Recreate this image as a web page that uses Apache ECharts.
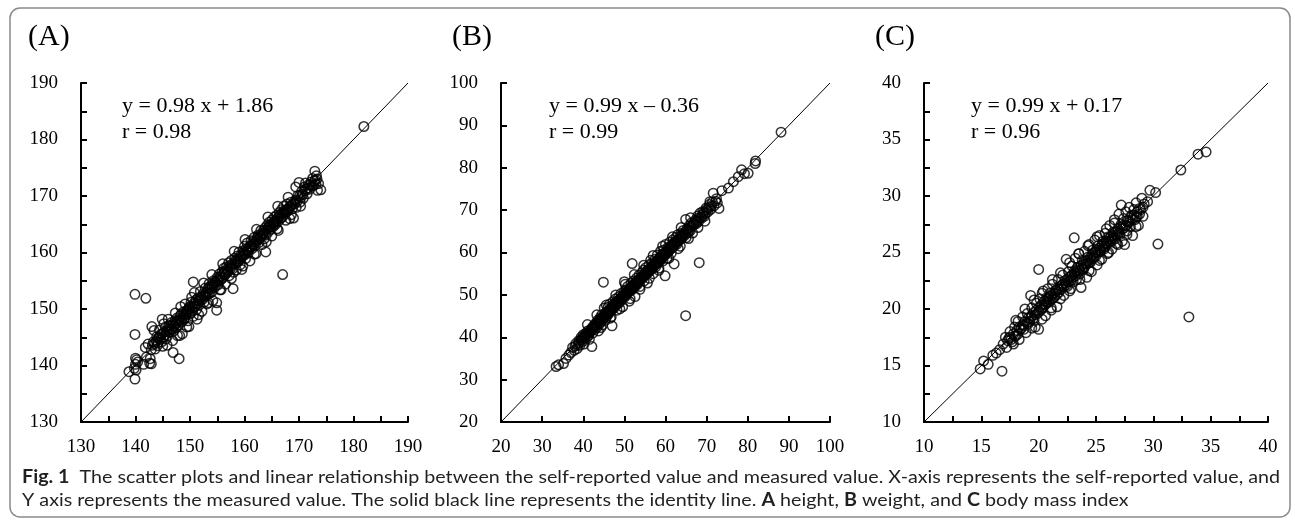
<!DOCTYPE html>
<html>
<head>
<meta charset="utf-8">
<script src="https://cdn.jsdelivr.net/npm/echarts@6.0.0/dist/echarts.min.js"></script>
<style>
  html, body { margin: 0; padding: 0; background: #fff; }
  #wrap { position: relative; width: 1295px; height: 521px; }
  #frame, #fig { position: absolute; left: 0; top: 0; width: 1295px; height: 521px; }
  #err { position: absolute; left: 600px; top: 10px; color: red; font: 12px sans-serif; }
</style>
</head>
<body>
<div id="wrap">
  <div id="frame"></div>
  <div id="fig"></div>
  <div id="err"></div>
</div>
<script>
// (A) height: [self-reported, measured]
const heightPoints = [
  [138.8,138.9],[139.9,137.6],[139.8,139.5],[140.0,140.2],[140.2,141.0],[140.1,139.2],[140.4,140.6],[140.0,141.3],
  [139.9,145.5],[139.9,152.6],[141.9,151.9],[141.5,140.2],[142.0,141.5],[141.8,143.2],[142.3,143.8],[142.6,140.4],
  [142.9,140.3],[142.7,141.2],[143.0,146.9],[143.4,146.2],[142.9,142.8],[143.1,143.6],[143.3,144.2],[143.6,142.9],
  [143.9,145.1],[144.0,143.5],[144.2,144.8],[144.6,145.5],[144.9,148.2],[144.4,146.3],[144.8,144.2],[145.0,143.4],
  [145.3,145.9],[145.6,144.7],[145.5,146.8],[145.9,145.3],[146.1,147.0],[146.2,145.9],[146.5,146.5],[146.9,142.3],
  [146.6,147.6],[146.8,144.4],[147.0,146.1],[147.2,147.9],[147.4,146.6],[147.6,148.4],[147.9,147.2],[148.0,141.2],
  [148.1,145.3],[148.2,148.8],[148.5,147.7],[148.6,145.6],[148.8,149.5],[148.9,148.1],[149.1,150.9],[149.2,148.9],
  [149.5,149.8],[149.6,147.9],[149.8,146.9],[149.9,150.4],[150.1,149.2],[150.2,151.2],[150.5,150.3],[150.6,154.8],
  [150.6,148.7],[150.8,152.9],[151.0,151.0],[151.2,149.9],[151.3,148.2],[151.5,152.0],[151.7,150.7],[151.9,153.1],
  [152.0,151.6],[152.2,149.6],[152.4,152.4],[152.6,151.2],[152.8,153.7],[153.0,152.3],[153.1,150.9],[153.3,153.6],
  [153.5,154.5],[153.7,152.8],[153.9,154.2],[154.0,153.0],[154.2,151.5],[154.3,155.0],[154.5,153.8],[154.7,154.7],
  [154.9,149.8],[154.9,151.1],[155.0,155.6],[155.2,154.3],[155.4,156.2],[155.6,155.1],[155.7,153.4],[155.9,156.6],
  [156.0,155.5],[156.2,157.2],[156.4,156.0],[156.5,154.4],[156.7,157.5],[156.9,156.7],[157.1,158.2],[157.2,155.9],
  [157.4,157.4],[157.6,158.6],[157.8,157.1],[157.9,153.6],[158.0,156.5],[158.2,159.0],[158.4,158.0],[158.5,156.9],
  [158.7,159.4],[158.9,158.4],[159.0,160.1],[159.2,157.8],[159.4,159.1],[159.5,157.0],[159.7,160.3],[159.9,159.5],
  [160.0,161.1],[160.2,158.9],[160.4,160.2],[160.5,161.7],[160.7,159.9],[160.9,160.9],[161.0,158.5],[161.2,162.1],
  [161.4,160.7],[161.6,161.5],[161.8,162.7],[162.0,161.2],[162.1,159.8],[162.3,162.3],[162.5,163.1],[162.7,161.8],
  [162.9,162.6],[163.0,163.9],[163.2,161.4],[163.4,163.5],[163.6,162.4],[163.9,160.1],[163.8,164.4],[164.0,163.1],
  [164.2,164.9],[164.4,163.7],[164.6,165.4],[164.8,164.1],[165.0,162.9],[165.1,165.8],[165.3,164.6],[165.5,166.3],
  [165.7,165.0],[165.9,166.6],[166.0,164.2],[166.2,165.5],[166.4,167.1],[166.6,166.0],[166.8,167.6],[167.0,156.1],
  [167.0,166.3],[167.2,168.2],[167.4,167.0],[167.6,165.7],[167.8,168.6],[168.0,167.4],[168.3,166.0],[168.5,168.9],
  [168.8,167.8],[169.0,166.1],[169.3,169.0],[169.5,168.0],[169.8,170.1],[170.0,172.4],[170.2,168.9],[170.5,170.8],
  [170.8,169.6],[171.0,171.6],[171.2,172.3],[171.5,170.4],[171.8,172.0],[172.0,171.2],[172.2,172.5],[172.5,173.1],
  [172.7,171.9],[172.9,174.4],[173.0,172.8],[173.2,173.6],[173.4,171.0],[173.6,172.2],[174.0,171.1],[181.9,182.3],
  [143.5,143.9],[143.8,144.3],[144.1,144.0],[144.3,145.0],[144.6,144.6],[144.9,145.6],[145.1,145.0],[145.4,145.4],
  [145.7,146.0],[145.9,146.4],[146.2,146.3],[146.4,147.1],[146.7,146.4],[146.9,147.3],[147.1,147.0],[147.3,147.5],
  [147.5,147.4],[147.7,147.9],[147.9,148.0],[148.1,148.2],[148.3,148.0],[148.4,149.1],[148.7,148.6],[148.9,149.0],
  [149.0,148.4],[149.3,149.6],[149.4,149.2],[149.7,149.3],[149.8,150.1],[150.0,150.0],[150.3,150.5],[150.4,149.7],
  [150.7,151.0],[150.9,150.4],[151.1,151.6],[151.4,150.9],[151.6,151.5],[151.8,151.9],[152.1,152.1],[152.3,151.7],
  [152.5,152.8],[152.7,152.3],[152.9,152.8],[153.2,153.1],[153.4,152.7],[153.6,153.9],[153.8,153.5],[154.1,154.0],
  [154.4,154.3],[154.6,154.9],[154.8,154.2],[155.1,155.2],[155.3,155.0],[155.5,155.7],[155.8,155.4],[156.1,156.2],
  [156.3,156.6],[156.6,156.2],[156.8,157.0],[157.0,156.6],[157.3,157.7],[157.5,157.2],[157.7,157.9],[158.1,158.0],
  [158.3,158.5],[158.6,158.3],[158.8,158.9],[159.1,158.8],[159.3,159.5],[159.6,159.4],[159.8,160.0],[160.1,159.7],
  [160.3,160.6],[160.6,160.3],[160.8,160.5],[161.1,161.2],[161.3,161.0],[161.5,161.9],[161.7,161.4],[161.9,161.8],
  [162.2,162.0],[162.4,162.7],[162.6,162.3],[162.8,163.0],[163.1,162.9],[163.3,163.2],[163.5,163.9],[163.7,163.3],
  [164.1,164.0],[164.3,164.3],[164.5,164.6],[164.7,164.9],[164.9,164.5],[165.2,165.2],[165.4,165.0],[165.6,165.6],
  [165.8,165.4],[166.1,166.0],[166.3,166.3],[166.5,166.6],[166.7,166.2],[166.9,166.9],[167.1,167.3],[167.3,166.8],
  [167.5,167.5],[167.7,167.2],[167.9,167.7],[168.2,167.9],[168.4,168.2],[168.7,168.4],[168.9,168.7],[169.2,168.6],
  [169.4,169.3],[169.7,169.1],[170.1,170.0],[170.4,169.8],[170.7,170.3],[171.1,170.9],[171.4,171.3],[171.7,171.4],
  [172.1,172.0],[172.4,171.8],[172.8,172.6],[173.1,172.1],[173.3,173.0],
  [145.2,147.4],[146.0,148.2],[147.3,149.3],[148.3,150.4],[150.3,152.1],[152.5,154.6],[154.0,156.1],[156.0,158.0],
  [158.1,160.2],[160.1,162.3],[162.2,164.1],[164.3,166.3],[145.8,143.6],[147.7,145.3],[149.4,146.8],[151.6,149.0],
  [153.4,151.1],[155.5,153.4],[157.6,155.4],[159.7,157.6],[161.8,159.7],[164.0,161.9],[166.2,163.9],[168.6,166.7],
  [170.3,168.2],[168.0,169.8],[169.4,171.6],[166.1,168.2]
];

// (B) weight
const weightPoints = [
  [33.4,33.1],[34.0,33.5],[35.2,33.8],[35.8,35.0],[36.5,35.8],[37.0,36.4],[37.4,37.6],[37.8,36.9],[38.2,38.5],
  [38.5,37.3],[38.9,39.2],[39.2,38.1],[39.5,40.0],[39.8,39.0],[40.0,40.6],[40.2,38.4],[40.4,39.7],[40.6,40.9],
  [40.9,40.0],[41.1,41.5],[41.3,40.4],[41.5,39.5],[41.7,41.2],[42.0,42.1],[42.1,37.8],[42.3,41.0],[42.5,42.7],
  [42.8,41.8],[43.0,43.3],[43.2,42.2],[43.5,44.0],[43.7,41.5],[43.9,43.1],[44.1,44.6],[44.3,43.6],[44.5,45.3],
  [44.7,42.9],[44.9,53.0],[44.9,44.4],[45.1,46.9],[45.2,45.2],[45.4,44.0],[45.6,46.0],[45.8,45.0],[46.0,47.1],
  [46.2,45.6],[46.4,47.8],[46.6,46.3],[46.8,44.8],[47.0,42.7],[47.0,47.3],[47.2,48.4],[47.4,46.8],[47.6,48.0],
  [47.8,49.0],[48.0,47.6],[48.2,46.4],[48.4,48.6],[48.6,49.5],[48.8,48.1],[49.0,49.2],[49.2,50.3],[49.4,48.9],
  [49.6,47.2],[49.8,50.0],[50.0,53.1],[50.0,50.9],[50.2,49.6],[50.4,51.2],[50.6,50.4],[50.8,52.0],[51.0,50.7],
  [51.2,48.5],[51.4,51.6],[51.6,52.7],[51.8,51.2],[51.9,57.4],[52.0,52.3],[52.2,53.3],[52.4,51.7],[52.6,49.6],
  [52.8,53.0],[53.0,54.0],[53.2,52.5],[53.4,53.6],[53.6,54.7],[53.8,52.0],[54.0,53.9],[54.2,55.2],[54.4,54.3],
  [54.6,55.8],[54.8,53.3],[55.0,54.8],[55.2,56.4],[55.4,55.3],[55.6,52.8],[55.8,56.0],[56.0,57.1],[56.2,55.6],
  [56.4,58.2],[56.6,56.5],[56.8,57.6],[57.0,55.0],[57.2,57.0],[57.4,58.4],[57.6,56.6],[57.8,57.9],[58.0,59.4],
  [58.2,57.5],[58.4,55.8],[58.6,58.7],[58.8,60.3],[59.0,58.3],[59.2,59.6],[59.4,58.0],[59.6,60.6],[59.9,54.5],
  [59.8,59.4],[60.0,61.9],[60.2,60.1],[60.4,58.6],[60.6,61.2],[60.8,60.3],[61.0,62.4],[61.2,60.9],[61.4,59.8],
  [61.6,61.9],[61.8,63.0],[62.1,57.3],[62.0,61.4],[62.3,62.5],[62.6,63.6],[62.8,62.0],[63.0,64.2],[63.3,63.1],
  [63.6,61.5],[63.8,64.5],[64.0,63.4],[64.3,65.2],[64.6,64.0],[64.9,67.8],[64.9,45.1],[65.0,63.5],[65.2,65.6],
  [65.5,64.7],[65.8,66.4],[66.0,65.1],[66.3,67.0],[66.6,64.6],[66.9,66.5],[67.2,67.6],[67.5,66.8],[67.8,68.6],
  [68.2,57.6],[68.0,67.3],[68.4,69.3],[68.8,68.1],[69.1,69.7],[69.5,68.6],[69.9,70.5],[70.3,69.6],[70.7,71.3],
  [70.8,72.0],[71.0,70.2],[71.4,71.9],[71.6,74.0],[71.8,71.0],[72.2,72.1],[72.6,71.7],[73.0,70.4],[73.7,74.6],
  [75.3,75.2],[76.5,76.7],[77.7,77.9],[78.5,79.5],[79.2,78.6],[80.1,78.7],[81.8,81.0],[81.9,81.6],[88.1,88.4],
  [38.0,37.9],[38.7,38.2],[39.0,38.7],[39.4,39.3],[39.7,39.6],[40.1,39.8],[40.3,40.3],[40.7,40.5],[41.0,40.9],
  [41.4,41.0],[41.6,41.6],[41.9,41.5],[42.2,42.0],[42.4,42.3],[42.7,42.4],[42.9,42.9],[43.1,42.7],[43.4,43.3],
  [43.6,43.6],[43.8,43.5],[44.0,44.0],[44.2,43.9],[44.4,44.4],[44.6,44.2],[44.8,44.9],[45.0,44.7],[45.3,45.1],
  [45.5,45.6],[45.7,45.3],[45.9,46.0],[46.1,45.8],[46.3,46.3],[46.5,46.6],[46.7,46.2],[46.9,46.9],[47.1,46.8],
  [47.3,47.4],[47.5,47.2],[47.7,47.6],[47.9,48.0],[48.1,47.8],[48.3,48.4],[48.5,48.1],[48.7,48.7],[48.9,48.9],
  [49.1,48.7],[49.3,49.4],[49.5,49.2],[49.7,49.7],[49.9,49.6],[50.1,50.2],[50.3,50.0],[50.5,50.6],[50.7,50.3],
  [50.9,51.0],[51.1,50.9],[51.3,51.2],[51.5,51.0],[51.7,51.8],[51.9,51.5],[52.1,52.0],[52.3,52.4],[52.5,52.1],
  [52.7,52.7],[52.9,52.5],[53.1,53.1],[53.3,52.9],[53.5,53.5],[53.7,53.2],[53.9,53.9],[54.1,53.7],[54.3,54.4],
  [54.5,54.0],[54.7,54.7],[54.9,54.5],[55.1,55.2],[55.3,54.9],[55.5,55.6],[55.7,55.2],[55.9,55.8],[56.1,56.0],
  [56.3,56.3],[56.5,56.0],[56.7,56.8],[56.9,56.4],[57.1,57.2],[57.3,56.9],[57.5,57.6],[57.7,57.3],[57.9,57.8],
  [58.1,58.1],[58.3,58.4],[58.5,58.0],[58.7,58.9],[58.9,58.5],[59.1,59.2],[59.3,58.9],[59.5,59.6],[59.7,59.3],
  [59.9,60.0],[60.1,59.8],[60.3,60.4],[60.5,60.0],[60.7,60.8],[60.9,60.5],[61.1,61.2],[61.3,60.9],[61.5,61.5],
  [61.7,61.2],[61.9,62.1],[62.2,61.8],[62.5,62.3],[62.7,62.8],[62.9,62.5],[63.2,63.2],[63.5,63.0],[63.7,63.8],
  [63.9,63.5],[64.2,64.1],[64.5,64.6],[64.7,64.3],[65.1,65.0],[65.4,65.4],[65.7,65.2],[66.1,66.0],[66.4,66.3],
  [66.8,66.8],[67.1,66.9],[67.4,67.3],[67.7,67.5],[68.1,68.2],[68.6,68.3],[69.0,68.9],[69.3,69.4],[69.7,69.2],
  [70.1,70.1],[70.5,70.6],[71.2,71.0],[72.4,72.7],
  [41.0,43.0],[43.3,45.3],[45.6,47.6],[47.9,50.0],[50.2,52.5],[52.4,54.8],[54.7,57.0],[57.0,59.3],[59.3,61.5],
  [61.7,63.7],[63.8,65.9],[66.1,68.2],[44.3,42.3],[46.6,44.5],[48.9,46.7],[51.4,49.1],[53.8,51.3],[56.1,53.9],
  [58.4,56.3],[60.8,58.6],[63.1,60.9],[65.6,63.3],[67.9,65.9],[69.6,67.4]
];

// (C) body mass index
const bmiPoints = [
  [14.9,14.7],[15.2,15.4],[15.6,15.1],[16.0,15.9],[16.3,16.1],[16.8,14.5],[16.6,16.4],[16.9,16.9],[17.1,17.5],
  [17.2,16.6],[17.4,17.4],[17.5,18.0],[17.7,17.1],[17.8,16.9],[17.9,18.4],[18.0,17.6],[18.2,18.9],[18.3,17.3],
  [18.4,18.2],[18.6,19.3],[18.7,18.5],[18.9,17.9],[19.0,19.6],[19.1,18.7],[19.3,21.2],[19.3,19.2],[19.4,20.1],
  [19.6,19.0],[19.7,18.4],[19.8,20.5],[19.9,19.6],[20.0,23.5],[20.0,18.2],[20.1,20.9],[20.2,20.0],[20.3,21.4],
  [20.5,20.4],[20.6,19.4],[20.7,21.0],[20.8,21.8],[20.9,20.6],[21.0,21.4],[21.1,19.9],[21.2,22.2],[21.3,21.0],
  [21.5,21.7],[21.6,20.2],[21.7,22.6],[21.8,21.5],[22.0,22.1],[22.1,23.0],[22.2,21.2],[22.3,22.5],[22.4,24.4],
  [22.5,22.0],[22.6,23.3],[22.7,21.6],[22.8,22.9],[22.9,23.8],[23.0,22.4],[23.1,26.3],[23.1,23.3],[23.2,24.5],
  [23.3,22.6],[23.4,23.7],[23.5,24.9],[23.6,23.1],[23.7,21.9],[23.8,24.3],[23.9,23.5],[24.0,25.1],[24.1,24.0],
  [24.2,22.8],[24.3,24.6],[24.4,25.7],[24.5,24.1],[24.6,23.3],[24.7,25.2],[24.8,24.5],[24.9,26.1],[25.0,25.0],
  [25.1,23.9],[25.2,25.6],[25.3,26.5],[25.4,25.1],[25.5,24.4],[25.6,26.0],[25.7,25.3],[25.8,26.7],[25.9,25.8],
  [26.0,24.9],[26.1,26.4],[26.2,27.4],[26.3,25.9],[26.4,25.3],[26.5,26.8],[26.6,27.6],[26.7,26.2],[26.8,25.8],
  [26.9,27.1],[27.0,28.4],[27.1,26.6],[27.2,29.2],[27.2,27.5],[27.3,26.0],[27.4,28.0],[27.5,25.7],[27.5,27.2],
  [27.6,28.6],[27.7,26.9],[27.8,27.8],[27.9,29.0],[28.0,27.3],[28.1,28.3],[28.2,26.5],[28.3,28.8],[28.4,27.9],
  [28.5,29.4],[28.6,28.2],[28.7,27.4],[28.8,28.9],[29.0,29.8],[29.1,28.2],[29.2,29.3],[29.5,29.5],[29.7,30.5],
  [30.2,30.3],[30.4,25.75],[32.4,32.3],[33.1,19.3],[33.9,33.7],[34.6,33.9],
  [17.3,17.2],[17.5,17.5],[17.6,17.3],[17.8,17.8],[17.9,17.6],[18.1,18.1],[18.2,17.8],[18.3,18.4],[18.5,18.3],
  [18.6,18.6],[18.7,18.2],[18.8,18.9],[19.0,18.8],[19.1,19.2],[19.2,18.9],[19.4,19.4],[19.5,19.1],[19.6,19.7],
  [19.7,19.5],[19.8,19.9],[20.0,19.8],[20.1,20.2],[20.2,19.9],[20.3,20.4],[20.4,20.1],[20.5,20.7],[20.6,20.4],
  [20.7,20.6],[20.8,20.9],[20.9,21.1],[21.0,20.8],[21.1,21.2],[21.2,20.9],[21.3,21.4],[21.4,21.1],[21.5,21.6],
  [21.6,21.3],[21.7,21.8],[21.8,21.7],[21.9,22.0],[22.0,21.8],[22.1,22.2],[22.2,22.0],[22.3,22.3],[22.4,22.1],
  [22.5,22.6],[22.6,22.4],[22.7,22.8],[22.8,22.5],[22.9,23.0],[23.0,22.8],[23.1,23.1],[23.2,22.9],[23.3,23.4],
  [23.4,23.2],[23.5,23.6],[23.6,23.4],[23.7,23.8],[23.8,23.6],[23.9,24.0],[24.0,23.7],[24.1,24.2],[24.2,24.0],
  [24.3,24.3],[24.4,24.1],[24.5,24.6],[24.6,24.4],[24.7,24.8],[24.8,24.6],[24.9,25.0],[25.0,24.7],[25.1,25.2],
  [25.2,25.0],[25.3,25.4],[25.4,25.2],[25.5,25.6],[25.6,25.4],[25.7,25.8],[25.8,25.5],[25.9,26.0],[26.0,25.8],
  [26.1,26.2],[26.2,26.0],[26.3,26.4],[26.4,26.2],[26.5,26.5],[26.6,26.3],[26.7,26.8],[26.8,26.6],[26.9,26.9],
  [27.0,26.7],[27.1,27.2],[27.3,27.1],[27.4,27.4],[27.6,27.4],[27.7,27.8],[27.9,27.7],[28.0,28.1],[28.2,27.9],
  [28.3,28.3],[28.5,28.2],[28.6,28.6],[28.8,28.4],[28.9,28.8],[29.1,29.0],
  [18.0,19.0],[18.8,20.0],[19.6,20.8],[20.4,21.6],[21.2,22.6],[21.9,23.2],[22.7,24.1],[23.5,24.9],[24.3,25.6],
  [25.1,26.4],[25.9,27.1],[26.6,27.9],[19.4,18.3],[20.3,19.1],[21.1,20.1],[21.9,20.9],[22.8,21.8],[23.6,22.6],
  [24.4,23.4],[25.3,24.3],[26.1,25.0],[26.9,25.7],[27.7,26.6],[28.5,27.3]
];

const heightRange = [130, 190];
const weightRange = [20, 100];
const bmiRange = [10, 40];

const panelLabels = ['(A)', '(B)', '(C)'];
const equations = ['y = 0.98 x + 1.86', 'y = 0.99 x \u2013 0.36', 'y = 0.99 x + 0.17'];
const rTexts = ['r = 0.98', 'r = 0.99', 'r = 0.96'];

const captionBold = 'Fig. 1';
const captionLine1 = '  The scatter plots and linear relationship between the self-reported value and measured value. X-axis represents the self-reported value, and';
const captionLine2 = 'Y axis represents the measured value. The solid black line represents the identity line. {b|A} height, {b|B} weight, and {b|C} body mass index';

// layout of each panel
const panels = [
  { points: heightPoints, range: heightRange, step: 10, minor: 2, left: 81, width: 327, labelX: 28, eqX: 122 },
  { points: weightPoints, range: weightRange, step: 10, minor: 0, left: 501, width: 329, labelX: 452, eqX: 549 },
  { points: bmiPoints, range: bmiRange, step: 5, minor: 2, left: 924, width: 344, labelX: 875, eqX: 971 }
];

const serifFont = 'Liberation Serif';
const sansFont = 'Lato';
const capSize = 18;

function textWidth(str, font) {
  const ctx = document.createElement('canvas').getContext('2d');
  ctx.font = font;
  return ctx.measureText(str).width;
}
const line1W = textWidth(captionBold, 'bold ' + capSize + 'px ' + sansFont) + textWidth(captionLine1, capSize + 'px ' + sansFont);
const capScale = 1258 / line1W;

// --- plots (axes + marks) ---
let myChart = echarts.init(document.getElementById('fig'));
const grids = [], xAxes = [], yAxes = [], series = [];

function axis(p, i, isX) {
  const ax = {
    type: 'value',
    gridIndex: i,
    min: p.range[0],
    max: p.range[1],
    interval: p.step,
    axisLine: { show: true, lineStyle: { color: '#000', width: 2 } },
    axisTick: { show: true, inside: true, length: 6, lineStyle: { color: '#000', width: 2 } },
    splitLine: { show: false },
    axisLabel: { fontFamily: serifFont, fontSize: 19, color: '#000', margin: isX ? 16 : 23 }
  };
  if (p.minor) {
    ax.minorTick = { show: true, splitNumber: p.minor, length: 6, lineStyle: { color: '#000', width: 2 } };
  }
  return ax;
}

panels.forEach(function (p, i) {
  grids.push({ left: p.left, top: 83, width: p.width, height: 339 });
  xAxes.push(axis(p, i, true));
  yAxes.push(axis(p, i, false));
  series.push({
    type: 'line',
    xAxisIndex: i,
    yAxisIndex: i,
    data: [[p.range[0], p.range[0]], [p.range[1], p.range[1]]],
    symbol: 'none',
    silent: true,
    lineStyle: { color: '#000', width: 1 }
  });
  series.push({
    type: 'scatter',
    xAxisIndex: i,
    yAxisIndex: i,
    data: p.points,
    symbolSize: 9.5,
    silent: true,
    progressive: 0,
    large: false,
    itemStyle: { color: 'rgba(0,0,0,0)', borderColor: '#000', borderWidth: 1.5 }
  });
});

try {
  myChart.setOption({ animation: false, hoverLayerThreshold: Infinity, grid: grids, xAxis: xAxes, yAxis: yAxes, series: series });
} catch (e) {
  document.getElementById('err').textContent = 'chart: ' + e.message;
}

// --- frame, panel letters, equations and caption ---
let frameChart = echarts.init(document.getElementById('frame'));
const graphics = [];

graphics.push({
  type: 'rect',
  shape: { x: 10, y: 8, width: 1280, height: 509, r: 10 },
  style: { fill: '#fff', stroke: '#8a8a8a', lineWidth: 1.5 },
  silent: true
});

panels.forEach(function (p, i) {
  graphics.push({
    type: 'text', x: p.labelX, y: 37,
    style: { text: panelLabels[i], font: '30px ' + serifFont, fill: '#000', verticalAlign: 'middle' }
  });
  graphics.push({
    type: 'text', x: p.eqX, y: 107, scaleX: 1.1,
    style: { text: equations[i], font: '20px ' + serifFont, fill: '#000', verticalAlign: 'middle' }
  });
  graphics.push({
    type: 'text', x: p.eqX, y: 133, scaleX: 1.1,
    style: { text: rTexts[i], font: '20px ' + serifFont, fill: '#000', verticalAlign: 'middle' }
  });
});

graphics.push({
  type: 'text', x: 22, y: 477, scaleX: capScale,
  style: {
    text: '{b|' + captionBold + '}' + captionLine1,
    font: capSize + 'px ' + sansFont, fill: '#231f20', verticalAlign: 'middle',
    rich: { b: { fontWeight: 'bold', fontFamily: sansFont, fontSize: capSize, fill: '#231f20' } }
  }
});
graphics.push({
  type: 'text', x: 22, y: 500, scaleX: capScale,
  style: {
    text: captionLine2,
    font: capSize + 'px ' + sansFont, fill: '#231f20', verticalAlign: 'middle',
    rich: { b: { fontWeight: 'bold', fontFamily: sansFont, fontSize: capSize, fill: '#231f20' } }
  }
});

try {
  frameChart.setOption({ animation: false, backgroundColor: '#fff', graphic: graphics });
} catch (e) {
  document.getElementById('err').textContent += ' frame: ' + e.message;
}
</script>
</body>
</html>
